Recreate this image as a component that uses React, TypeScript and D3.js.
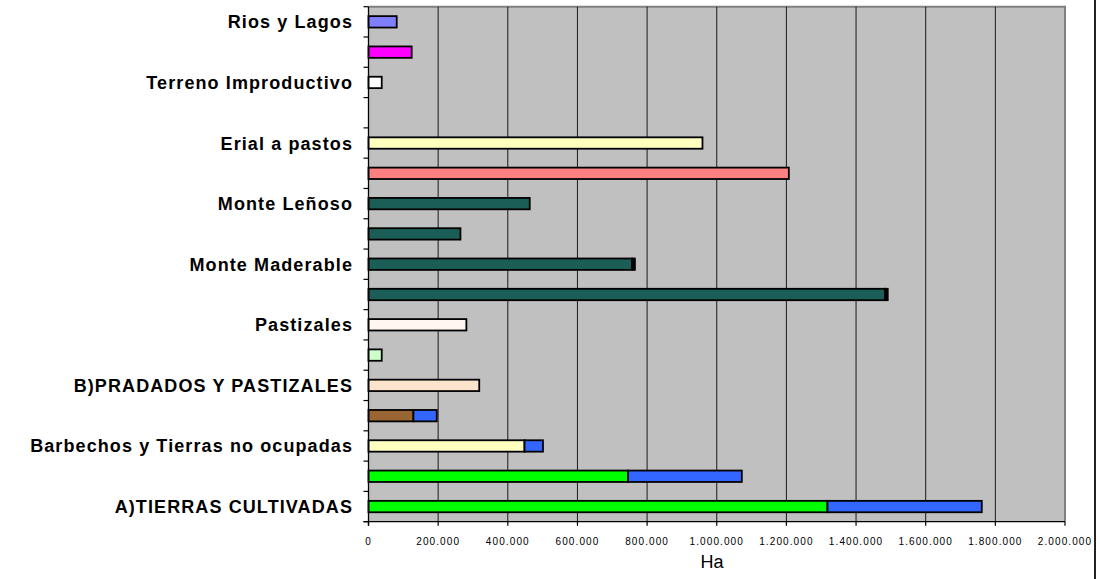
import React from 'react';
import * as d3 from 'd3';

// rows listed from the bottom of the chart to the top
const categories = [
  'A)TIERRAS CULTIVADAS',
  'Cultivos herbáceos',
  'Barbechos y Tierras no ocupadas',
  'Cultivos leñosos',
  'B)PRADADOS Y PASTIZALES',
  'Prados naturales',
  'Pastizales',
  'C)TERRENO FORESTAL',
  'Monte Maderable',
  'Monte Abierto',
  'Monte Leñoso',
  'D)OTRAS SUPERFICIES',
  'Erial a pastos',
  'Espartizal',
  'Terreno Improductivo',
  'Superficie no agrícola',
  'Rios y Lagos',
];

const secano = [1318000, 745000, 448000, 129000, 318000, 38000, 281000, 1483000, 757000, 264000, 463000, 1207000, 959000, 0, 38000, 124000, 81000];
const regadio = [443000, 327000, 53000, 67000, 0, 0, 0, 8000, 8000, 0, 0, 0, 0, 0, 0, 0, 0];

const secanoColors = ['#00FF00', '#00FF00', '#FFFFC0', '#996633', '#FCE4CC', '#CCFFCC', '#FFF6EF', '#1B5E57', '#1B5E57', '#1B5E57', '#1B5E57', '#FF8080', '#FFFFC0', '#FFFFFF', '#FFFFFF', '#FF00FF', '#8080FF'];
const regadioColors = ['#3366FF', '#3366FF', '#3366FF', '#3366FF', '#3366FF', '#3366FF', '#3366FF', '#000000', '#000000', '#3366FF', '#3366FF', '#3366FF', '#3366FF', '#3366FF', '#3366FF', '#3366FF', '#3366FF'];

const xTicks = [0, 200000, 400000, 600000, 800000, 1000000, 1200000, 1400000, 1600000, 1800000, 2000000];

const W = 1100;
const H = 579;
const left = 368.5;
const right = 1065;
const top = 6.7;
const bottom = 521.7;

const fmt = (v: number) => d3.format(',')(v).replace(/,/g, '.');

export default function App() {
  const x = d3.scaleLinear().domain([0, 2000000]).range([left, right]);
  const y = d3.scaleBand<string>().domain([...categories].reverse()).range([top, bottom]).padding(0);
  const barH = 11.4;
  const step = y.step();
  const boundaries = d3.range(categories.length + 1).map(i => top + i * step);

  return (
    <div style={{ position: 'absolute', left: 0, top: 0, background: '#fff' }}>
      <svg width={W} height={H} viewBox={`0 0 ${W} ${H}`} style={{ display: 'block' }}>
        <rect x={0} y={0} width={W} height={H} fill="#fff" />
        {/* plot area */}
        <rect x={left} y={top} width={right - left} height={bottom - top} fill="#C0C0C0" />
        <line x1={left} x2={right} y1={top} y2={top} stroke="#808080" strokeWidth={2} />
        <line x1={right} x2={right} y1={top - 1} y2={bottom} stroke="#808080" strokeWidth={2} />

        {/* gridlines */}
        {xTicks.slice(1, -1).map(t => (
          <line key={t} x1={x(t)} x2={x(t)} y1={top} y2={bottom} stroke="#1a1a1a" strokeWidth={1} />
        ))}

        {/* bars */}
        {categories.map((c, i) => {
          const cy = (y(c) as number) + step / 2;
          const a = secano[i];
          const b = regadio[i];
          return (
            <g key={c}>
              {a > 0 && (
                <rect x={x(0)} y={cy - barH / 2} width={x(a) - x(0)} height={barH}
                  fill={secanoColors[i]} stroke="#000" strokeWidth={1.8} />
              )}
              {b > 0 && (
                <rect x={x(a)} y={cy - barH / 2} width={x(a + b) - x(a)} height={barH}
                  fill={regadioColors[i]} stroke="#000" strokeWidth={1.8} />
              )}
            </g>
          );
        })}

        {/* axes */}
        <line x1={left} x2={left} y1={top} y2={bottom + 4} stroke="#000" strokeWidth={1.3} />
        <line x1={left - 5} x2={right} y1={bottom} y2={bottom} stroke="#000" strokeWidth={1.3} />
        {boundaries.map((b, i) => (
          <line key={i} x1={left - 5} x2={left} y1={b} y2={b} stroke="#000" strokeWidth={1.2} />
        ))}
        {xTicks.map(t => (
          <g key={t}>
            <line x1={x(t)} x2={x(t)} y1={bottom} y2={bottom + 4} stroke="#000" strokeWidth={1.2} />
            <text x={x(t)} y={545} textAnchor="middle" fontFamily="Liberation Sans, Arial, sans-serif"
              fontSize={10} letterSpacing={1.1} fill="#000">{fmt(t)}</text>
          </g>
        ))}

        {/* category labels, every other row */}
        {categories.map((c, i) => i % 2 === 0 ? (
          <text key={c} x={353} y={(y(c) as number) + step / 2 + 6.5} textAnchor="end"
            fontFamily="Liberation Sans, Arial, sans-serif" fontWeight="bold" fontSize={18}
            letterSpacing={1.1} fill="#000">{c}</text>
        ) : null)}

        <text x={712} y={568} textAnchor="middle" fontFamily="Liberation Sans, Arial, sans-serif"
          fontSize={18} fill="#000">Ha</text>

        {/* outer chart frame */}
        <line x1={1095} x2={1095} y1={0} y2={H} stroke="#222" strokeWidth={2} />
      </svg>
    </div>
  );
}
